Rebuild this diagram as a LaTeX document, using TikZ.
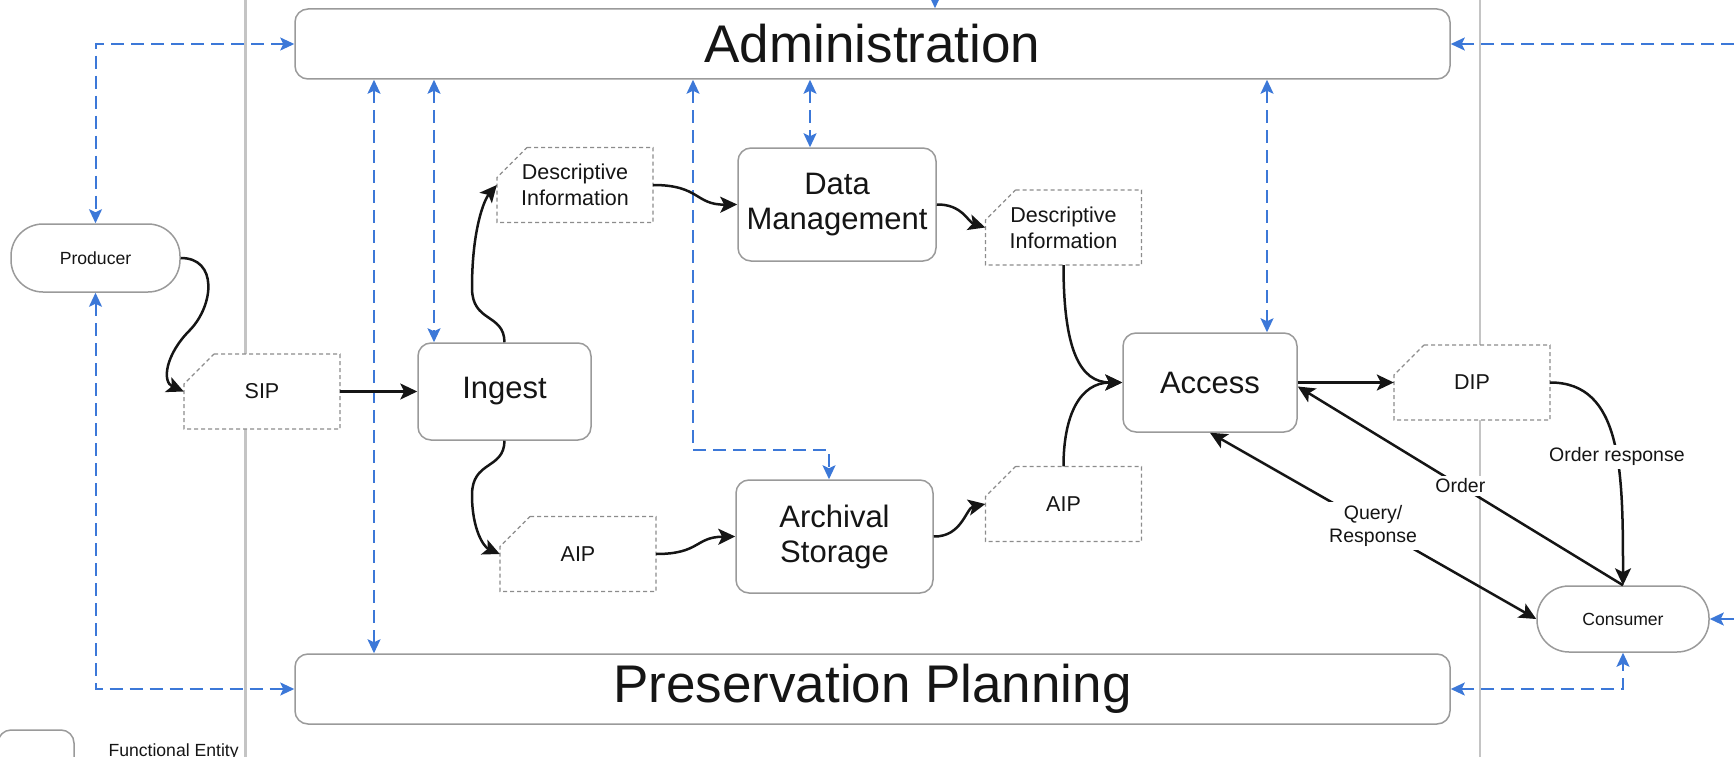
\documentclass[tikz,border=0pt]{standalone}
\usepackage{fontspec}
\setmainfont{Liberation Sans}
\usetikzlibrary{arrows.meta}

\definecolor{boxgray}{HTML}{9A9A9A}
\definecolor{docgray}{HTML}{8C8C8C}
\definecolor{lanegray}{HTML}{C4C4C4}
\definecolor{ctlblue}{HTML}{3C78D8}
\definecolor{ink}{HTML}{151515}

% information package: rectangle with the top-left corner cut off
\newcommand\infopkg[4]{%
  \draw[docline] (#2,#3) ++(-48,-37.5) -- ++(126,0) -- ++(0,75) -- ++(-156,0) -- ++(0,-45) -- cycle;
  \node[doctext] (#1) at (#2,#3) {#4};
}

\begin{document}
\begin{tikzpicture}[x=1pt,y=-1pt,
  ent/.style={draw=boxgray, line width=1.5pt, rounded corners=13pt, fill=white,
    align=center, text=ink, inner sep=0pt},
  big/.style={ent, minimum width=1155pt, minimum height=70pt,
    font=\fontsize{53}{60}\selectfont},
  func/.style={ent, font=\fontsize{31}{35}\selectfont},
  party/.style={ent, rounded corners=32pt, font=\fontsize{17.6}{20}\selectfont},
  doctext/.style={minimum width=156pt, minimum height=75pt, inner sep=0pt,
    align=center, text=ink, font=\fontsize{21.5}{26}\selectfont},
  docline/.style={draw=docgray, line width=1.2pt, dash pattern=on 4pt off 3pt, fill=white},
  flow/.style={draw=ink, line width=2.5pt, -{Stealth[length=17pt,width=16pt,inset=4pt]}},
  flow2/.style={draw=ink, line width=2.5pt,
    {Stealth[length=17pt,width=16pt,inset=4pt]}-{Stealth[length=17pt,width=16pt,inset=4pt]}},
  ctl1/.style={draw=ctlblue, line width=2pt, dash pattern=on 13pt off 7pt,
    -{Stealth[length=14pt,width=13pt,inset=3pt]}},
  ctl2/.style={draw=ctlblue, line width=2pt, dash pattern=on 13pt off 7pt,
    {Stealth[length=14pt,width=13pt,inset=3pt]}-{Stealth[length=14pt,width=13pt,inset=3pt]}},
  lane/.style={draw=lanegray, line width=2.5pt},
  lbl/.style={fill=white, text=ink, font=\fontsize{19.5}{23.5}\selectfont,
    inner sep=3pt, align=center}
]
\useasboundingbox (0,0) rectangle (1734,757);

% swim-lane separators
\draw[lane] (245.5,0) -- (245.5,757);
\draw[lane] (1480,0) -- (1480,757);

% functional entities
\node[big] (adm) at (872.5,44) {Administration};
\node[big] (pp) at (872.5,689) {Preservation Planning};
\node[party, minimum width=169pt, minimum height=68pt] (prod) at (95.5,258) {Producer};
\node[party, minimum width=172pt, minimum height=66pt] (con) at (1623,619) {Consumer};
\node[func, minimum width=173pt, minimum height=97pt] (ing) at (504.5,391.5) {Ingest};
\node[func, minimum width=198pt, minimum height=113pt] (dm) at (837,204.5) {Data\\Management};
\node[func, minimum width=197pt, minimum height=113pt] (as) at (834.5,536.5) {Archival\\Storage};
\node[func, minimum width=174pt, minimum height=99pt] (acc) at (1210,382.5) {Access};

% information packages
\infopkg{sip}{262}{391.5}{SIP}
\infopkg{dia}{575}{185}{Descriptive\\Information}
\infopkg{dib}{1063.5}{227.5}{Descriptive\\Information}
\infopkg{aipa}{578}{554}{AIP}
\infopkg{aipb}{1063.5}{504}{AIP}
\infopkg{dip}{1472}{382.5}{DIP}

% legend
\node[ent, minimum width=76pt, minimum height=70pt] (leg) at (36,765) {};
\node[anchor=base west, text=ink, font=\fontsize{17.6}{20}\selectfont] (legtxt) at (105,756) {Functional Entity};

% control links (administration / preservation planning)
\coordinate (topin) at (935,0);
\coordinate (rtop) at (1734,44);
\coordinate (rcon) at (1734,619);
\coordinate (xa) at (374,0);
\coordinate (xb) at (434,0);
\coordinate (xc) at (693,0);
\coordinate (xd) at (829,0);
\coordinate (xe) at (810,0);
\coordinate (xf) at (1267,0);
\coordinate (bend) at (829,450);

\draw[ctl2] (adm.west) -| (prod.north);
\draw[ctl2] (prod.south) |- (pp.west);
\draw[ctl2] (adm.south -| xa) -- (pp.north -| xa);
\draw[ctl2] (adm.south -| xb) -- (ing.north -| xb);
\draw[ctl2] (adm.south -| xc) |- (bend) -- (as.north -| xd);
\draw[ctl2] (adm.south -| xe) -- (dm.north -| xe);
\draw[ctl2] (adm.south -| xf) -- (acc.north -| xf);
\draw[ctl1] (topin) -- (adm.north -| topin);
\draw[ctl1] (rtop) -- (adm.east);
\draw[ctl2] (pp.east) -| (con.south);
\draw[ctl1] (rcon) -- (con.east);

% data flows
\draw[flow] (prod.east) .. controls (218,258) and (214,305) .. (190,330)
  .. controls (165,355) and (162,382) .. (sip.west);
\draw[flow] (sip.east) -- (ing.west);
\draw[flow] (ing.north) .. controls (504,313) and (472,323) .. (472,288)
  .. controls (472,230) and (484,200) .. (dia.west);
\draw[flow] (ing.south) .. controls (504,470) and (472,460) .. (472,495)
  .. controls (472,530) and (484,547) .. (aipa.west);
\draw[flow] (dia.east) .. controls (700,185) and (695,205) .. (dm.west);
\draw[flow] (dm.east) .. controls (962,204) and (968,222) .. (dib.west);
\draw[flow] (aipa.east) .. controls (700,554) and (695,537) .. (as.west);
\draw[flow] (as.east) .. controls (962,537) and (966,508) .. (aipb.west);
\draw[flow] (dib.south) .. controls (1063.5,350) and (1080,382.5) .. (acc.west);
\draw[flow] (aipb.north) .. controls (1063.5,415) and (1080,382.5) .. (acc.west);
\draw[flow] (acc.east) -- (dip.west);
\draw[flow] (dip.east) .. controls (1622,382.5) and (1623,470) ..
  node[lbl, pos=0.57] {Order response} (con.north);
\draw[flow] (con.north) -- node[lbl] {Order} ([yshift=-4pt]acc.east);
\draw[flow2] (acc.south) -- node[lbl] {Query/\\Response} (con.west);
\end{tikzpicture}
\end{document}
